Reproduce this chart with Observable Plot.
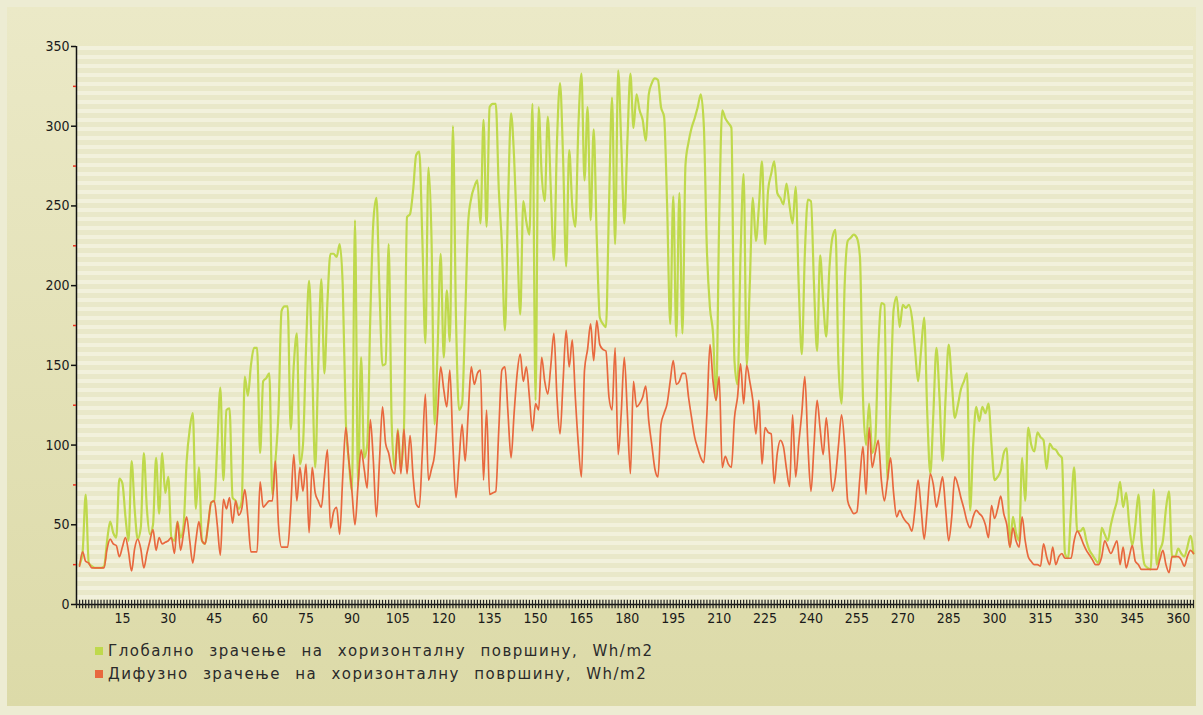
<!DOCTYPE html>
<html><head><meta charset="utf-8">
<script src="https://cdn.jsdelivr.net/npm/d3@7"></script>
<script src="https://cdn.jsdelivr.net/npm/@observablehq/plot@0.6"></script>
<style>
html,body{margin:0;padding:0;width:1203px;height:715px;overflow:hidden;background:#edecd3;}
#panel{position:absolute;left:7px;top:7px;width:1189px;height:699px;background:linear-gradient(#ebe9c7,#dcdaa8);}
#stripes{position:absolute;background:repeating-linear-gradient(to bottom,#f2f1dc 0 4.5px,#e9e8c9 4.5px 9px);}
#chart{position:absolute;left:0;top:0;}
#legend{position:absolute;left:95px;top:640px;font-family:"DejaVu Sans",sans-serif;font-size:15px;color:#2a2a2a;letter-spacing:1.5px;word-spacing:8px;line-height:23px}
.sw{display:inline-block;width:8px;height:8px;margin-right:5px;vertical-align:1px}
</style></head><body>
<div id="panel"></div>
<div id="stripes"></div>
<div id="chart"></div>
<div id="legend"></div>
<script>
const days = d3.range(1, 366);
const seriesNames = ["Глобално зрачење на хоризонталну површину, Wh/m2", "Дифузно зрачење на хоризонталну површину, Wh/m2"];
const globalWh = [
25,33,69,26,24,23,23,23,24,40,
52,45,42,79,76,55,40,90,60,41,
48,95,60,44,50,92,57,95,70,80,
42,40,52,42,50,90,110,120,60,86,
40,38,50,64,65,100,136,78,122,123,
67,65,60,65,143,131,150,161,161,95,
140,142,145,69,90,120,184,187,187,110,
150,170,88,100,160,203,150,86,150,204,
145,190,220,220,218,226,200,115,90,71,
241,75,155,92,100,180,240,255,197,150,
151,226,113,85,110,85,110,243,245,260,
282,284,230,164,274,230,113,160,220,155,
197,165,300,180,122,126,180,240,255,262,
266,239,304,237,312,314,314,260,226,172,
250,308,280,230,182,253,240,232,314,128,
312,270,253,306,260,216,290,327,280,212,
285,250,237,300,333,266,312,241,298,230,
180,176,174,250,318,226,335,290,239,290,
333,299,320,310,304,291,320,327,330,329,
312,306,250,176,256,168,258,170,276,290,
299,305,312,320,300,222,186,170,128,240,
310,305,302,299,153,138,220,270,150,200,
255,228,250,278,226,260,270,278,258,255,
251,264,250,239,262,200,157,220,254,253,
200,159,219,190,168,210,230,235,150,126,
200,228,230,232,230,218,130,100,126,95,
103,160,189,188,78,130,185,193,174,188,
186,188,180,160,140,160,180,120,82,120,
161,130,90,130,163,140,117,125,135,140,
145,59,100,124,115,124,120,126,100,78,
80,84,95,98,36,55,45,40,92,65,
111,100,96,108,105,103,85,101,98,97,
94,92,32,29,60,86,46,46,48,40,
34,31,28,26,48,44,40,50,58,65,
77,61,70,50,37,50,69,40,25,23,
22,72,25,34,40,60,71,30,30,35,
32,30,36,43,32];
const diffuseWh = [
24,33,27,26,23,23,23,23,23,35,
41,38,37,30,36,42,33,21,35,41,
35,23,32,40,47,34,42,38,39,40,
42,32,52,34,45,55,40,26,40,52,
40,38,50,64,65,50,31,66,60,67,
51,65,56,60,72,55,33,33,33,77,
61,63,65,65,90,50,36,36,36,60,
94,65,86,71,88,45,86,70,65,61,
80,97,48,58,61,44,80,111,90,71,
50,75,97,85,73,116,90,55,90,124,
101,95,85,82,109,82,110,82,106,80,
63,61,95,132,78,85,94,120,149,135,
124,147,100,67,90,113,90,120,149,138,
145,147,78,122,69,70,71,110,147,149,
120,92,120,145,157,140,149,130,109,126,
122,155,140,132,150,170,130,107,140,172,
149,166,130,100,80,147,160,176,153,178,
163,160,159,130,122,161,94,120,155,120,
82,140,124,126,130,137,115,100,85,80,
113,120,126,140,153,138,140,145,145,130,
117,105,98,92,89,120,163,140,128,143,
86,93,88,86,117,130,151,126,150,140,
128,107,128,88,111,108,107,76,95,103,
99,85,74,119,80,101,120,143,100,71,
100,128,110,94,117,95,71,80,100,119,
100,65,60,57,58,80,99,69,111,86,
95,103,78,65,78,92,70,55,59,55,
52,50,46,60,78,60,41,60,82,75,
61,70,80,60,40,55,80,75,67,60,
52,48,55,59,57,55,50,42,62,54,
60,68,57,50,36,48,40,36,55,40,
30,27,25,25,24,38,30,25,36,25,
30,32,29,29,29,40,46,43,38,34,
31,28,25,25,30,40,36,32,36,40,
25,36,23,30,37,27,25,22,22,22,
22,22,22,28,34,25,20,30,30,30,
28,24,30,34,32];
const xTickLabels = d3.range(15, 361, 15);
const yTicks = d3.range(0, 351, 50);
const yMinorTicks = d3.range(25, 350, 50);
const colors = ["#bfd94c", "#e8683e"];

const rows = days.map((d, i) => ({day: d, global: globalWh[i], diffuse: diffuseWh[i]}));

const W = 1203, H = 635, mL = 76, mR = 10, mT = 46, mB = 31;
const stripes = document.getElementById("stripes");
stripes.style.left = mL + "px"; stripes.style.top = mT + "px";
stripes.style.width = (W - mL - mR) + "px"; stripes.style.height = (H - mT - mB) + "px";

const chart = Plot.plot({
  width: W, height: H,
  marginLeft: mL, marginRight: mR, marginTop: mT, marginBottom: mB,
  style: {fontFamily: "'DejaVu Sans Condensed', 'DejaVu Sans', sans-serif", fontSize: "14px", color: "#1a1a1a", background: "transparent", overflow: "visible"},
  x: {domain: [0, 365], axis: null},
  y: {domain: [0, 350], axis: null},
  marks: [
    Plot.line(rows, {x: "day", y: "global", stroke: colors[0], strokeWidth: 2.2, curve: "monotone-x"}),
    Plot.line(rows, {x: "day", y: "diffuse", stroke: colors[1], strokeWidth: 1.7, curve: "monotone-x"}),
    Plot.ruleX([0], {y1: 0, y2: 350, stroke: "#111", strokeWidth: 1.5}),
    Plot.ruleY([0], {x1: 0, x2: 365, stroke: "#111", strokeWidth: 1.5}),
    Plot.ruleX([0, ...days], {x: d => d, y1: -2.6, y2: 2.6, stroke: "#222", strokeWidth: 1.2}),
    Plot.axisY({ticks: yTicks, tickSize: 5, tickPadding: 2, stroke: "#111", strokeWidth: 1.5, label: null}),
    Plot.axisY({ticks: yMinorTicks, tickSize: 3, tickPadding: 0, stroke: "#e83020", strokeWidth: 1.5, tickFormat: () => "", label: null}),
    Plot.axisX({ticks: xTickLabels, tickSize: 0, tickPadding: 9, label: null})
  ]
});
document.getElementById("chart").appendChild(chart);

const legend = document.getElementById("legend");
seriesNames.forEach((name, i) => {
  const row = document.createElement("div");
  const sw = document.createElement("span");
  sw.className = "sw"; sw.style.background = colors[i];
  row.appendChild(sw);
  row.appendChild(document.createTextNode(name));
  legend.appendChild(row);
});
</script>
</body></html>
